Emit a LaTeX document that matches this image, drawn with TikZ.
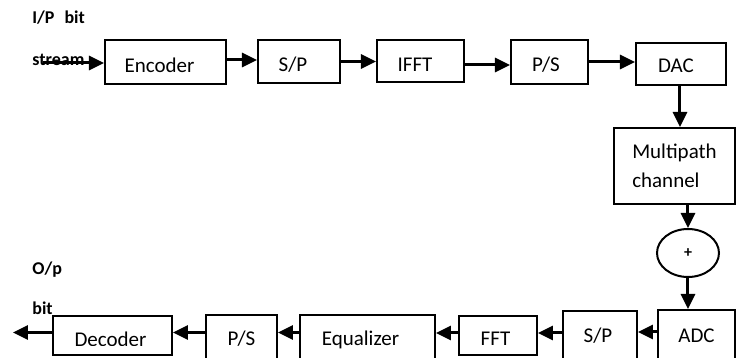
\documentclass[tikz,border=0pt]{standalone}
\usepackage{fontspec}
\setmainfont{Carlito}
\usetikzlibrary{arrows.meta,shapes.geometric,calc}
\begin{document}
\begin{tikzpicture}[x=0.5pt,y=-0.5pt,
 box/.style={draw,line width=1pt,inner sep=0pt,text depth=0pt,font=\fontsize{10.5}{12}\selectfont},
 tl/.style={execute at end node={\hspace{#1}}},
 arr/.style={line width=1.5pt,-{Triangle[length=7.5pt,width=7pt]}},
 lbl/.style={font=\bfseries\fontsize{9}{10}\selectfont,anchor=west,inner sep=0pt}]
\useasboundingbox (0,0) rectangle (736,358);
\clip (0,0) rectangle (736,358);
% top row
\node[box,minimum width=60.5pt,minimum height=22pt,text height=10.5pt,tl=6pt] (enc) at (165.5,62) {Encoder};
\node[box,minimum width=41pt,minimum height=21.5pt,text height=10.5pt,tl=6pt] (sp1) at (299,61.5) {S/P};
\node[box,minimum width=43.5pt,minimum height=21pt,text height=11pt,tl=5.5pt] (ifft) at (420.5,61) {IFFT};
\node[box,minimum width=38.5pt,minimum height=22pt,text height=10pt,tl=3.5pt] (ps1) at (549.5,62) {P/S};
\node[box,minimum width=45pt,minimum height=21pt,text height=9pt,tl=5pt] (dac) at (681,64) {DAC};
% right column
\node[draw,line width=1pt,inner sep=0pt,minimum width=60.5pt,minimum height=38pt,align=left,font=\fontsize{10.5}{14.5}\selectfont] (mp) at (674.5,166) {Multipath\\channel};
\node[draw,ellipse,line width=1pt,minimum width=31pt,minimum height=24pt,inner sep=0pt,font=\bfseries\fontsize{8}{9}\selectfont] (plus) at (688,253) {+};
% bottom row
\node[box,minimum width=38.5pt,minimum height=28pt,text height=5pt] (adc) at (696.5,338) {ADC};
\node[box,minimum width=37pt,minimum height=27.5pt,text height=4.5pt,tl=2pt] (sp2) at (600,338.5) {S/P};
\node[box,minimum width=39pt,minimum height=19.5pt,text height=10.5pt,tl=2.5pt] (fft) at (498,335.5) {FFT};
\node[box,minimum width=67.5pt,minimum height=25.5pt,text height=5.5pt,tl=7pt] (eq) at (367.5,340.5) {Equalizer};
\node[box,minimum width=35.5pt,minimum height=25.5pt,text height=5.5pt] (ps2) at (241.5,340.5) {P/S};
\node[box,minimum width=59.5pt,minimum height=19.5pt] (dec) at (112.5,335.5) {};
\begin{scope}
\clip (53,316) rectangle (172,345.5);
\node[box,draw=none,text height=11pt,tl=2pt] (dect) at (dec.center) {Decoder};
\end{scope}
% labels
\node[lbl] (ip) at (32,18) {I/P\hspace{5pt}bit};
\node[lbl] (st) at (32,60) {stream};
\node[lbl] (op) at (32,270) {O/p};
\node[lbl] (bt) at (32,308) {bit};
\coordinate (in) at (43,63);
\coordinate (out) at (13,332.5);
% connectors
\draw[arr] (in) -- (in -| enc.west);
\draw[arr] ([yshift=1pt]enc.east) -- ([yshift=1pt]enc.east -| sp1.west);
\draw[arr] (sp1.east) -- (sp1.east -| ifft.west);
\draw[arr] ([yshift=-2pt]ifft.east) -- ([yshift=-2pt]ifft.east -| ps1.west);
\draw[arr] (ps1.east) -- (ps1.east -| dac.west);
\draw[arr] ([xshift=-0.5pt]dac.south) -- ([xshift=-0.5pt]dac.south |- mp.north);
\draw[arr] (plus.north |- mp.south) -- (plus.north);
\draw[arr] (plus.south) -- (plus.south |- adc.north);
\draw[arr] ([yshift=3pt]adc.west) -- ([yshift=3pt]adc.west -| sp2.east);
\draw[arr] ([yshift=2.75pt]sp2.west) -- ([yshift=2.75pt]sp2.west -| fft.east);
\draw[arr] ([yshift=1.25pt]fft.west) -- ([yshift=1.25pt]fft.west -| eq.east);
\draw[arr] ([yshift=4pt]eq.west) -- ([yshift=4pt]eq.west -| ps2.east);
\draw[arr] ([yshift=4pt]ps2.west) -- ([yshift=4pt]ps2.west -| dec.east);
\draw[arr] (dec.west |- out) -- (out);
\end{tikzpicture}
\end{document}
